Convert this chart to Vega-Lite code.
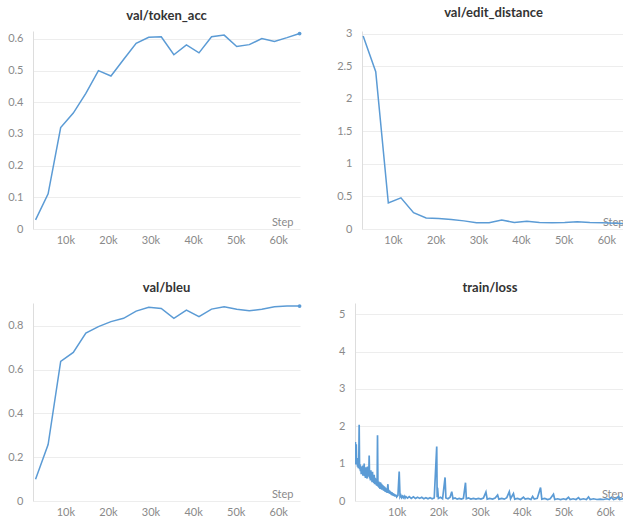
{
  "$schema": "https://vega.github.io/schema/vega-lite/v6.json",
  "padding": {"left": 5, "top": 6, "right": 0, "bottom": 0},
  "background": "white",
  "datasets": {
    "acc": [
      {"step": 3000, "value": 0.029}, {"step": 5950, "value": 0.111}, {"step": 8900, "value": 0.32},
      {"step": 11860, "value": 0.366}, {"step": 14810, "value": 0.428}, {"step": 17760, "value": 0.5},
      {"step": 20710, "value": 0.483}, {"step": 23670, "value": 0.535}, {"step": 26620, "value": 0.586},
      {"step": 29570, "value": 0.605}, {"step": 32520, "value": 0.607}, {"step": 35480, "value": 0.55},
      {"step": 38430, "value": 0.581}, {"step": 41380, "value": 0.556}, {"step": 44330, "value": 0.607},
      {"step": 47290, "value": 0.612}, {"step": 50240, "value": 0.576}, {"step": 53190, "value": 0.582},
      {"step": 56140, "value": 0.601}, {"step": 59100, "value": 0.592}, {"step": 62050, "value": 0.604},
      {"step": 65000, "value": 0.617}
    ],
    "ed": [
      {"step": 3000, "value": 2.97}, {"step": 5950, "value": 2.42}, {"step": 8900, "value": 0.4},
      {"step": 11860, "value": 0.48}, {"step": 14810, "value": 0.25}, {"step": 17760, "value": 0.17},
      {"step": 20710, "value": 0.16}, {"step": 23670, "value": 0.145}, {"step": 26620, "value": 0.125},
      {"step": 29570, "value": 0.095}, {"step": 32520, "value": 0.095}, {"step": 35480, "value": 0.14},
      {"step": 38430, "value": 0.1}, {"step": 41380, "value": 0.12}, {"step": 44330, "value": 0.1},
      {"step": 47290, "value": 0.095}, {"step": 50240, "value": 0.1}, {"step": 53190, "value": 0.11},
      {"step": 56140, "value": 0.1}, {"step": 59100, "value": 0.095}, {"step": 62050, "value": 0.09},
      {"step": 65000, "value": 0.08}
    ],
    "bleu": [
      {"step": 3000, "value": 0.099}, {"step": 5950, "value": 0.258}, {"step": 8900, "value": 0.638},
      {"step": 11860, "value": 0.679}, {"step": 14810, "value": 0.767}, {"step": 17760, "value": 0.797},
      {"step": 20710, "value": 0.82}, {"step": 23670, "value": 0.835}, {"step": 26620, "value": 0.868},
      {"step": 29570, "value": 0.885}, {"step": 32520, "value": 0.88}, {"step": 35480, "value": 0.835},
      {"step": 38430, "value": 0.873}, {"step": 41380, "value": 0.843}, {"step": 44330, "value": 0.877},
      {"step": 47290, "value": 0.888}, {"step": 50240, "value": 0.876}, {"step": 53190, "value": 0.87},
      {"step": 56140, "value": 0.876}, {"step": 59100, "value": 0.888}, {"step": 62050, "value": 0.891},
      {"step": 65000, "value": 0.891}
    ],
    "loss": [
      {"step": 0, "value": 1.05}, {"step": 100, "value": 1.58}, {"step": 200, "value": 0.98}, {"step": 300, "value": 1.52},
      {"step": 400, "value": 1.0}, {"step": 500, "value": 1.15}, {"step": 600, "value": 0.92}, {"step": 700, "value": 1.0},
      {"step": 800, "value": 0.88}, {"step": 900, "value": 0.95}, {"step": 1000, "value": 2.04}, {"step": 1100, "value": 0.85},
      {"step": 1200, "value": 0.98}, {"step": 1300, "value": 0.8}, {"step": 1400, "value": 0.92}, {"step": 1500, "value": 0.72},
      {"step": 1600, "value": 0.9}, {"step": 1700, "value": 0.75}, {"step": 1800, "value": 0.95}, {"step": 1900, "value": 0.68},
      {"step": 2000, "value": 0.88}, {"step": 2100, "value": 0.7}, {"step": 2200, "value": 1.0}, {"step": 2300, "value": 0.66},
      {"step": 2400, "value": 0.85}, {"step": 2500, "value": 0.62}, {"step": 2600, "value": 0.9}, {"step": 2700, "value": 0.7},
      {"step": 2800, "value": 0.8}, {"step": 2900, "value": 0.6}, {"step": 3000, "value": 0.92}, {"step": 3100, "value": 0.65},
      {"step": 3200, "value": 0.78}, {"step": 3300, "value": 0.7}, {"step": 3400, "value": 1.22}, {"step": 3500, "value": 0.6},
      {"step": 3600, "value": 0.75}, {"step": 3700, "value": 0.55}, {"step": 3800, "value": 0.82}, {"step": 3900, "value": 0.58},
      {"step": 4000, "value": 0.72}, {"step": 4100, "value": 0.5}, {"step": 4200, "value": 0.78}, {"step": 4300, "value": 0.52},
      {"step": 4400, "value": 0.68}, {"step": 4500, "value": 0.48}, {"step": 4600, "value": 0.7}, {"step": 4700, "value": 0.45},
      {"step": 4800, "value": 0.62}, {"step": 4900, "value": 0.5}, {"step": 5000, "value": 0.6}, {"step": 5100, "value": 0.42},
      {"step": 5200, "value": 0.55}, {"step": 5300, "value": 0.4}, {"step": 5400, "value": 1.76}, {"step": 5500, "value": 0.45},
      {"step": 5600, "value": 0.38}, {"step": 5700, "value": 0.52}, {"step": 5800, "value": 0.35}, {"step": 5900, "value": 0.48},
      {"step": 6000, "value": 0.32}, {"step": 6100, "value": 0.5}, {"step": 6200, "value": 0.36}, {"step": 6300, "value": 0.47},
      {"step": 6400, "value": 0.3}, {"step": 6500, "value": 0.44}, {"step": 6600, "value": 0.33}, {"step": 6700, "value": 0.42},
      {"step": 6800, "value": 0.28}, {"step": 6900, "value": 0.4}, {"step": 7000, "value": 0.27}, {"step": 7100, "value": 0.38},
      {"step": 7200, "value": 0.25}, {"step": 7300, "value": 0.36}, {"step": 7400, "value": 0.24}, {"step": 7500, "value": 0.33},
      {"step": 7600, "value": 0.22}, {"step": 7700, "value": 0.3}, {"step": 7800, "value": 0.35}, {"step": 7900, "value": 0.45},
      {"step": 8000, "value": 0.22}, {"step": 8100, "value": 0.3}, {"step": 8200, "value": 0.2}, {"step": 8300, "value": 0.28},
      {"step": 8400, "value": 0.19}, {"step": 8500, "value": 0.26}, {"step": 8600, "value": 0.18}, {"step": 8700, "value": 0.24},
      {"step": 8800, "value": 0.16}, {"step": 8900, "value": 0.23}, {"step": 9000, "value": 0.15}, {"step": 9100, "value": 0.21},
      {"step": 9200, "value": 0.14}, {"step": 9300, "value": 0.2}, {"step": 9400, "value": 0.13}, {"step": 9500, "value": 0.18},
      {"step": 9600, "value": 0.12}, {"step": 9700, "value": 0.17}, {"step": 9800, "value": 0.12}, {"step": 9900, "value": 0.16},
      {"step": 10000, "value": 0.11}, {"step": 10300, "value": 0.15}, {"step": 10600, "value": 0.79}, {"step": 10800, "value": 0.11},
      {"step": 11000, "value": 0.15}, {"step": 11200, "value": 0.09}, {"step": 11400, "value": 0.13}, {"step": 11600, "value": 0.09},
      {"step": 11800, "value": 0.13}, {"step": 12000, "value": 0.08}, {"step": 12200, "value": 0.12}, {"step": 12600, "value": 0.08},
      {"step": 13000, "value": 0.12}, {"step": 13500, "value": 0.07}, {"step": 14000, "value": 0.11}, {"step": 14500, "value": 0.07},
      {"step": 15000, "value": 0.1}, {"step": 15500, "value": 0.07}, {"step": 16000, "value": 0.1}, {"step": 16500, "value": 0.06},
      {"step": 17000, "value": 0.09}, {"step": 17500, "value": 0.06}, {"step": 18000, "value": 0.09}, {"step": 18500, "value": 0.06},
      {"step": 19000, "value": 0.08}, {"step": 19600, "value": 1.46}, {"step": 19700, "value": 0.1},
      {"step": 19800, "value": 0.35}, {"step": 20000, "value": 0.07}, {"step": 20500, "value": 0.1}, {"step": 21000, "value": 0.06},
      {"step": 21600, "value": 0.63}, {"step": 21800, "value": 0.08}, {"step": 22300, "value": 0.06}, {"step": 22800, "value": 0.1},
      {"step": 23200, "value": 0.25}, {"step": 23500, "value": 0.06}, {"step": 24000, "value": 0.08}, {"step": 24500, "value": 0.05},
      {"step": 25000, "value": 0.07}, {"step": 25500, "value": 0.05}, {"step": 26000, "value": 0.07}, {"step": 26500, "value": 0.49},
      {"step": 26700, "value": 0.06}, {"step": 27200, "value": 0.08}, {"step": 27800, "value": 0.05}, {"step": 28400, "value": 0.07},
      {"step": 29000, "value": 0.05}, {"step": 29600, "value": 0.07}, {"step": 30200, "value": 0.05}, {"step": 30800, "value": 0.08},
      {"step": 31400, "value": 0.24}, {"step": 31700, "value": 0.05}, {"step": 32300, "value": 0.07}, {"step": 33000, "value": 0.05},
      {"step": 33600, "value": 0.08}, {"step": 34200, "value": 0.16}, {"step": 34500, "value": 0.05}, {"step": 35200, "value": 0.07},
      {"step": 35800, "value": 0.05}, {"step": 36400, "value": 0.09}, {"step": 37000, "value": 0.25}, {"step": 37300, "value": 0.06},
      {"step": 38000, "value": 0.2}, {"step": 38300, "value": 0.05}, {"step": 39000, "value": 0.07}, {"step": 39700, "value": 0.04},
      {"step": 40400, "value": 0.1}, {"step": 40800, "value": 0.05}, {"step": 41500, "value": 0.07}, {"step": 42200, "value": 0.04},
      {"step": 42600, "value": 0.12}, {"step": 43000, "value": 0.05}, {"step": 43700, "value": 0.07}, {"step": 44500, "value": 0.36},
      {"step": 44800, "value": 0.05}, {"step": 45500, "value": 0.07}, {"step": 46200, "value": 0.04}, {"step": 46800, "value": 0.06},
      {"step": 47600, "value": 0.18}, {"step": 47900, "value": 0.04}, {"step": 48600, "value": 0.06}, {"step": 49300, "value": 0.04},
      {"step": 50000, "value": 0.06}, {"step": 50600, "value": 0.04}, {"step": 51200, "value": 0.1}, {"step": 51600, "value": 0.04},
      {"step": 52300, "value": 0.06}, {"step": 53000, "value": 0.04}, {"step": 53600, "value": 0.09}, {"step": 54000, "value": 0.04},
      {"step": 54800, "value": 0.06}, {"step": 55500, "value": 0.04}, {"step": 56000, "value": 0.11}, {"step": 56400, "value": 0.04},
      {"step": 57200, "value": 0.06}, {"step": 58000, "value": 0.04}, {"step": 58800, "value": 0.05}, {"step": 59600, "value": 0.04},
      {"step": 60400, "value": 0.06}, {"step": 61000, "value": 0.04}, {"step": 61500, "value": 0.1}, {"step": 62000, "value": 0.04},
      {"step": 62600, "value": 0.06}, {"step": 63200, "value": 0.12}, {"step": 63500, "value": 0.04}, {"step": 64200, "value": 0.06},
      {"step": 65000, "value": 0.05}
    ]
  },
  "vconcat": [
    {
      "hconcat": [
        {
          "title": "val/token_acc",
          "width": 267, "height": 198,
          "data": {"name": "acc"},
          "encoding": {
            "x": {"field": "step", "type": "quantitative",
              "scale": {"domain": [2400, 65100], "nice": false, "zero": false},
              "axis": {"values": [10000, 20000, 30000, 40000, 50000, 60000], "labelExpr": "(datum.value/1000) + 'k'",
                "title": "Step", "titleX": 260, "titleY": -4, "titleAlign": "right", "titleBaseline": "alphabetic"}},
            "y": {"field": "value", "type": "quantitative",
              "scale": {"domain": [0, 0.625], "nice": false, "zero": true},
              "axis": {"values": [0, 0.1, 0.2, 0.3, 0.4, 0.5, 0.6], "format": "~g", "title": null, "minExtent": 28, "maxExtent": 28}}
          },
          "layer": [
            {"mark": {"type": "line", "clip": true}},
            {"transform": [{"filter": "datum.step == 65000"}], "mark": {"type": "point", "filled": true, "size": 14, "opacity": 1, "color": "#5b9bd5"}}
          ]
        },
        {
          "title": "val/edit_distance",
          "width": 263, "height": 198,
          "data": {"name": "ed"},
          "encoding": {
            "x": {"field": "step", "type": "quantitative",
              "scale": {"domain": [2730, 64380], "nice": false, "zero": false},
              "axis": {"values": [10000, 20000, 30000, 40000, 50000, 60000], "labelExpr": "(datum.value/1000) + 'k'",
                "title": "Step", "titleX": 262, "titleY": -4, "titleAlign": "right", "titleBaseline": "alphabetic"}},
            "y": {"field": "value", "type": "quantitative",
              "scale": {"domain": [0, 3.046], "nice": false, "zero": true},
              "axis": {"values": [0, 0.5, 1, 1.5, 2, 2.5, 3], "format": "~g", "title": null, "minExtent": 28, "maxExtent": 28}}
          },
          "layer": [
            {"mark": {"type": "line", "clip": true}}
          ]
        }
      ],
      "spacing": 32
    },
    {
      "hconcat": [
        {
          "title": "val/bleu",
          "width": 267, "height": 198,
          "data": {"name": "bleu"},
          "encoding": {
            "x": {"field": "step", "type": "quantitative",
              "scale": {"domain": [2400, 65100], "nice": false, "zero": false},
              "axis": {"values": [10000, 20000, 30000, 40000, 50000, 60000], "labelExpr": "(datum.value/1000) + 'k'",
                "title": "Step", "titleX": 260, "titleY": -4, "titleAlign": "right", "titleBaseline": "alphabetic"}},
            "y": {"field": "value", "type": "quantitative",
              "scale": {"domain": [0, 0.905], "nice": false, "zero": true},
              "axis": {"values": [0, 0.2, 0.4, 0.6, 0.8], "format": "~g", "title": null, "minExtent": 28, "maxExtent": 28}}
          },
          "layer": [
            {"mark": {"type": "line", "clip": true}},
            {"transform": [{"filter": "datum.step == 65000"}], "mark": {"type": "point", "filled": true, "size": 14, "opacity": 1, "color": "#5b9bd5"}}
          ]
        },
        {
          "title": "train/loss",
          "width": 270, "height": 198,
          "data": {"name": "loss"},
          "encoding": {
            "x": {"field": "step", "type": "quantitative",
              "scale": {"domain": [0, 64750], "nice": false, "zero": false},
              "axis": {"values": [10000, 20000, 30000, 40000, 50000, 60000], "labelExpr": "(datum.value/1000) + 'k'",
                "title": "Step", "titleX": 268, "titleY": -4, "titleAlign": "right", "titleBaseline": "alphabetic"}},
            "y": {"field": "value", "type": "quantitative",
              "scale": {"domain": [0, 5.3], "nice": false, "zero": true},
              "axis": {"values": [0, 1, 2, 3, 4, 5], "format": "~g", "title": null, "minExtent": 21, "maxExtent": 21}}
          },
          "layer": [
            {"mark": {"type": "line", "clip": true, "strokeWidth": 1.7}}
          ]
        }
      ],
      "spacing": 32
    }
  ],
  "spacing": 35,
  "config": {
    "font": "Lato",
    "view": {"stroke": null},
    "axis": {
      "labelColor": "#8a8a8a", "labelFontSize": 11, "ticks": false,
      "gridColor": "#ededed", "domainColor": "#dddddd",
      "titleColor": "#8a8a8a", "titleFontWeight": "normal", "titleFontSize": 11
    },
    "axisX": {"grid": false, "domain": false, "labelPadding": 5, "minExtent": 18, "maxExtent": 18, "labelFlush": false},
    "axisY": {"labelPadding": 10},
    "title": {"fontSize": 13, "fontWeight": "bold", "color": "#333333", "offset": 8},
    "line": {"color": "#5b9bd5", "strokeWidth": 1.5}
  }
}
